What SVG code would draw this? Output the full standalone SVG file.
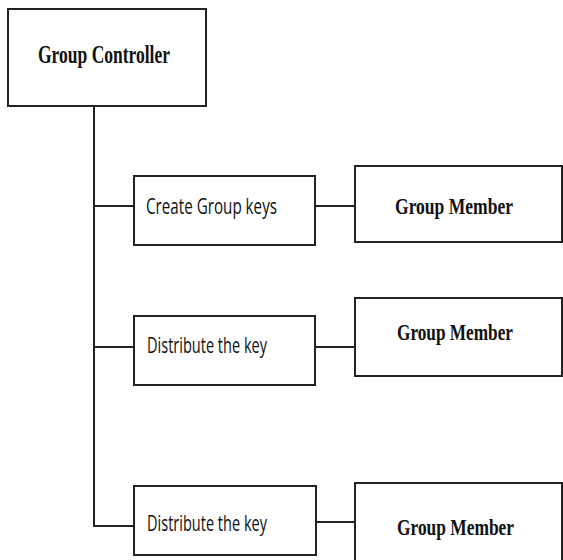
<svg xmlns="http://www.w3.org/2000/svg" width="563" height="560" viewBox="0 0 563 560">
<style>
.box{fill:#fff;stroke:#222;stroke-width:2}
.ln{fill:none;stroke:#222;stroke-width:2}
.serif{font-family:"Liberation Serif","Times New Roman",serif;font-weight:bold;font-size:26px;fill:#111}
.mem{font-size:23px}
.sans{font-family:"Liberation Sans Narrow","Open Sans","Liberation Sans",sans-serif;font-size:21px;fill:#111}
</style>
<rect width="563" height="560" fill="#fff"/>
<g id="connectors">
<polyline class="ln" points="94,106 94,526 134,526"/>
<line class="ln" x1="94" y1="206" x2="134" y2="206"/>
<line class="ln" x1="94" y1="347" x2="134" y2="347"/>
<line class="ln" x1="315" y1="206" x2="355" y2="206"/>
<line class="ln" x1="315" y1="347" x2="355" y2="347"/>
<line class="ln" x1="316" y1="522" x2="355" y2="522"/>
</g>
<g id="group-controller">
<rect class="box" x="8" y="9" width="198" height="97"/>
<text class="serif" x="38" y="63" textLength="132" lengthAdjust="spacingAndGlyphs">Group Controller</text>
</g>
<g id="create-keys">
<rect class="box" x="134" y="176" width="181" height="69"/>
<text class="sans" x="146" y="214" textLength="131" lengthAdjust="spacingAndGlyphs">Create Group keys</text>
</g>
<g id="distribute-1">
<rect class="box" x="134" y="316" width="181" height="69"/>
<text class="sans" x="147" y="353" textLength="120" lengthAdjust="spacingAndGlyphs">Distribute the key</text>
</g>
<g id="distribute-2">
<rect class="box" x="134" y="486" width="182" height="69"/>
<text class="sans" x="147" y="531" textLength="120" lengthAdjust="spacingAndGlyphs">Distribute the key</text>
</g>
<g id="member-1">
<rect class="box" x="355" y="166" width="207" height="76"/>
<text class="serif mem" x="395" y="214" textLength="118" lengthAdjust="spacingAndGlyphs">Group Member</text>
</g>
<g id="member-2">
<rect class="box" x="355" y="298" width="207" height="78"/>
<text class="serif mem" x="397" y="340" textLength="116" lengthAdjust="spacingAndGlyphs">Group Member</text>
</g>
<g id="member-3">
<rect class="box" x="355" y="483" width="207" height="80"/>
<text class="serif mem" x="397" y="535" textLength="117" lengthAdjust="spacingAndGlyphs">Group Member</text>
</g>
</svg>
